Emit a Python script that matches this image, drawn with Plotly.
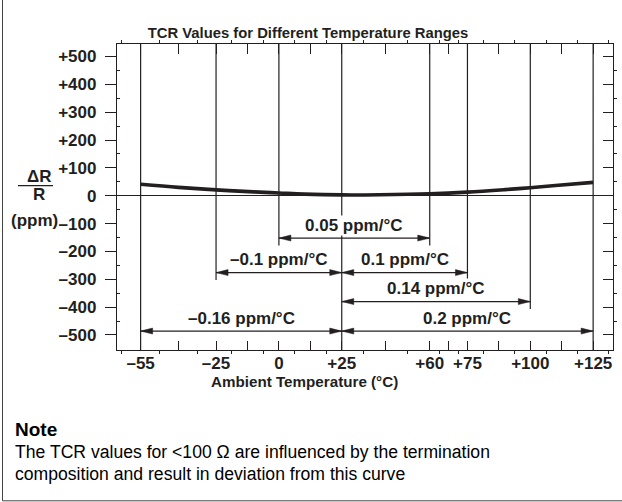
import plotly.graph_objects as go

# ---------------- data ----------------
temps = [-55, -40, -25, -10, 0, 10, 25, 40, 60, 75, 90, 100, 110, 125]
delta_r_ppm = [41, 30, 21, 14, 10, 6, 3, 3.5, 7, 13, 22, 29, 37, 48]

x_tick_temps = [-55, -25, 0, 25, 60, 75, 100, 125]
x_tick_labels = ["–55", "–25", "0", "+25", "+60", "+75", "+100", "+125"]
y_tick_vals = [500, 400, 300, 200, 100, 0, -100, -200, -300, -400, -500]
y_tick_labels = ["+500", "+400", "+300", "+200", "+100", "0",
                 "–100", "–200", "–300", "–400", "–500"]

tcr_labels = ["0.05 ppm/°C", "–0.1 ppm/°C", "0.1 ppm/°C",
              "0.14 ppm/°C", "–0.16 ppm/°C", "0.2 ppm/°C"]
range_start = [0, -25, 25, 25, -55, 25]
range_end = [60, 25, 75, 100, 25, 125]
arrow_level = [-152, -276, -276, -380, -486, -486]

# ---------------- layout constants ----------------
W, H = 622, 502
ML, MR, MT, MB = 117, 9, 44, 152
PW, PH = W - ML - MR, H - MT - MB
X_RANGE = [-64.4, 132.9]
Y_RANGE = [-554, 545]
INK = "#231f20"
FONT = "Liberation Sans, Arial, Helvetica, sans-serif"


def pxx(px):
    return (px - ML) / PW


def pxy(py):
    return (H - MB - py) / PH


# major ticks: labelled temps plus midpoints; minor ticks halfway between
major_x, major_txt = [], []
for a, b, lab in zip(x_tick_temps[:-1], x_tick_temps[1:], x_tick_labels[:-1]):
    major_x += [a, (a + b) / 2]
    major_txt += [lab, ""]
major_x.append(x_tick_temps[-1])
major_txt.append(x_tick_labels[-1])
minor_x = [(a + b) / 2 for a, b in zip(major_x[:-1], major_x[1:])]
minor_x = [major_x[0] - (major_x[1] - major_x[0]) / 2] + minor_x + \
          [major_x[-1] + (major_x[-1] - major_x[-2]) / 2]
minor_y = [v + 50 for v in range(-500, 500, 100)]

fig = go.Figure()

# vertical boundary lines
lowest = min(arrow_level)
line_temps = sorted(set(range_start + range_end))
vx, vy = [], []
for t in line_temps:
    lv = min(l for s, e, l in zip(range_start, range_end, arrow_level) if t in (s, e))
    bottom = Y_RANGE[0] if lv == lowest else lv - 27
    vx += [t, t, None]
    vy += [Y_RANGE[1], bottom, None]
fig.add_trace(go.Scatter(x=vx, y=vy, mode="lines",
                         line=dict(color=INK, width=1.2),
                         hoverinfo="skip", showlegend=False))

# arrow shafts
ax_, ay_ = [], []
for s, e, l in zip(range_start, range_end, arrow_level):
    ax_ += [s, e, None]
    ay_ += [l, l, None]
fig.add_trace(go.Scatter(x=ax_, y=ay_, mode="lines",
                         line=dict(color=INK, width=1.2),
                         hoverinfo="skip", showlegend=False))

# TCR curve
fig.add_trace(go.Scatter(x=temps, y=delta_r_ppm, mode="lines",
                         line=dict(color=INK, width=3.6, shape="spline"),
                         hoverinfo="skip", showlegend=False))

# helper traces for the mirrored axes
fig.add_trace(go.Scatter(x=[0], y=[0], xaxis="x2", yaxis="y", mode="markers",
                         marker=dict(opacity=0), hoverinfo="skip", showlegend=False))
fig.add_trace(go.Scatter(x=[0], y=[0], xaxis="x", yaxis="y2", mode="markers",
                         marker=dict(opacity=0), hoverinfo="skip", showlegend=False))

shapes = []
# arrow heads (filled narrow triangles), pixel sized
for s, e, l in zip(range_start, range_end, arrow_level):
    for t, path in ((s, "M0,0 L12,3 L12,-3 Z"), (e, "M0,0 L-12,3 L-12,-3 Z")):
        shapes.append(dict(type="path", xref="x", yref="y",
                           xsizemode="pixel", ysizemode="pixel",
                           xanchor=t, yanchor=l, path=path,
                           fillcolor=INK, line=dict(color=INK, width=0.5)))
# fraction bar of y title
shapes.append(dict(type="line", xref="paper", yref="paper",
                   x0=pxx(18), x1=pxx(53), y0=pxy(185.7), y1=pxy(185.7),
                   line=dict(color=INK, width=1.3)))
# outer frame
shapes.append(dict(type="rect", xref="paper", yref="paper",
                   x0=pxx(2.5), x1=pxx(640), y0=pxy(500.8), y1=pxy(-5),
                   line=dict(color="#444444", width=1)))

bold17 = dict(family=FONT, size=17, color=INK, weight="bold")
annotations = []
for lab, s, e, l in zip(tcr_labels, range_start, range_end, arrow_level):
    annotations.append(dict(x=(s + e) / 2, y=l, xref="x", yref="y", text=lab,
                            showarrow=False, yshift=13, bgcolor="white",
                            borderpad=0, font=bold17))

for txt, cx, cy in (("ΔR", 39, 176), ("R", 38.5, 194), ("(ppm)", 34.5, 220)):
    annotations.append(dict(x=pxx(cx), y=pxy(cy), xref="paper", yref="paper",
                            text=txt, showarrow=False, xanchor="center",
                            yanchor="middle", font=bold17))

annotations.append(dict(x=pxx(304), y=pxy(381), xref="paper", yref="paper",
                        text="Ambient Temperature (°C)", showarrow=False,
                        xanchor="center", yanchor="middle",
                        font=dict(family=FONT, size=15.2, color=INK, weight="bold")))
annotations.append(dict(x=pxx(13), y=pxy(429), xref="paper", yref="paper",
                        text="Note", showarrow=False, xanchor="left", yanchor="middle",
                        font=dict(family=FONT, size=19, color="black", weight="bold")))
for txt, cy in (("The TCR values for <100 Ω are influenced by the termination", 452),
                ("composition and result in deviation from this curve", 474)):
    annotations.append(dict(x=pxx(13), y=pxy(cy), xref="paper", yref="paper",
                            text=txt.replace("<", "&lt;"), showarrow=False,
                            xanchor="left", yanchor="middle",
                            font=dict(family=FONT, size=17.6, color="black")))

tick_common = dict(tickcolor=INK, tickwidth=1.2, showgrid=False, zeroline=False)

fig.update_layout(
    width=W, height=H,
    margin=dict(l=ML, r=MR, t=MT, b=MB, pad=0),
    paper_bgcolor="white", plot_bgcolor="white",
    showlegend=False,
    title=dict(text="TCR Values for Different Temperature Ranges",
               x=308 / W, y=1 - 33 / H, xref="container", yref="container",
               xanchor="center", yanchor="middle",
               font=dict(family=FONT, size=14.8, color=INK, weight="bold")),
    xaxis=dict(range=X_RANGE, tickmode="array", tickvals=major_x, ticktext=major_txt,
               ticks="inside", ticklen=9, showline=True, mirror=True,
               linecolor=INK, linewidth=1.3, tickfont=bold17, ticklabelstandoff=-3,
               minor=dict(tickmode="array", tickvals=minor_x, ticks="outside",
                          ticklen=3, tickwidth=1, tickcolor=INK, showgrid=False),
               **tick_common),
    xaxis2=dict(range=X_RANGE, overlaying="x", side="top", anchor="y",
                tickmode="array", tickvals=major_x, showticklabels=False,
                ticks="inside", ticklen=10, showline=False,
                minor=dict(tickmode="array", tickvals=minor_x, ticks="outside",
                           ticklen=3, tickwidth=1, tickcolor=INK, showgrid=False),
                **tick_common),
    yaxis=dict(range=Y_RANGE, tickmode="array", tickvals=y_tick_vals,
               ticktext=y_tick_labels, ticks="outside", ticklen=11,
               showline=True, mirror=True, linecolor=INK, linewidth=1.3,
               tickfont=bold17, ticklabelstandoff=5,
               minor=dict(tickmode="array", tickvals=minor_y, ticks="inside",
                          ticklen=3, tickwidth=1, tickcolor=INK, showgrid=False),
               tickcolor=INK, tickwidth=1.2, showgrid=False,
               zeroline=True, zerolinecolor=INK, zerolinewidth=1.2),
    yaxis2=dict(range=Y_RANGE, overlaying="y", side="right", anchor="x",
                tickmode="array", tickvals=y_tick_vals, showticklabels=False,
                ticks="inside", ticklen=10, showline=False,
                minor=dict(tickmode="array", tickvals=minor_y, ticks="outside",
                           ticklen=3, tickwidth=1, tickcolor=INK, showgrid=False),
                **tick_common),
    shapes=shapes,
    annotations=annotations,
)

fig.write_html("out.html", config={"displayModeBar": False},
               post_script="document.body.style.margin='0';document.body.style.overflow='hidden';")
